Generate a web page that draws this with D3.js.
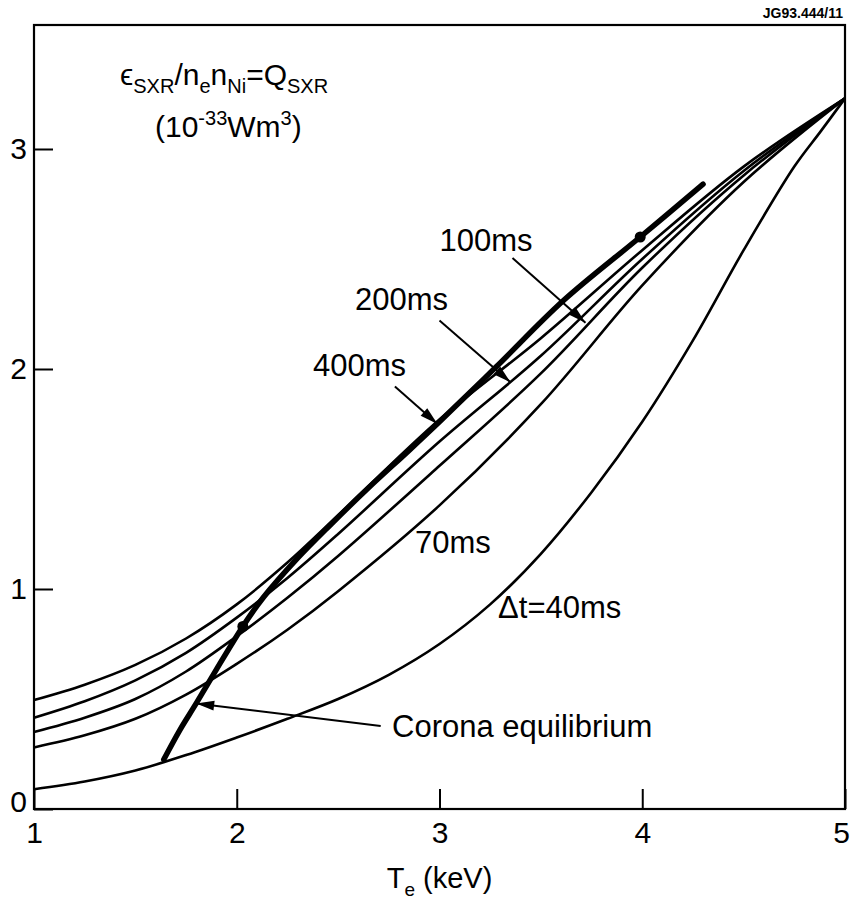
<!DOCTYPE html>
<html>
<head>
<meta charset="utf-8">
<script src="https://cdn.jsdelivr.net/npm/d3@7"></script>
<style>
body { margin: 0; background: #fff; }
svg text { font-family: "Liberation Sans", Arial, Helvetica, sans-serif; fill: #000; }
</style>
</head>
<body>
<svg width="851" height="901"></svg>
<script>
"use strict";

// Te grid (keV) shared by the 70..400ms curves
const temps = [1, 1.25, 1.5, 1.75, 2, 2.25, 2.5, 3, 3.5, 4, 4.5, 5];
const q400 = [0.495, 0.565, 0.655, 0.775, 0.93, 1.12, 1.335, 1.77, 2.14, 2.54, 2.92, 3.23];
const q200 = [0.415, 0.49, 0.585, 0.71, 0.87, 1.05, 1.25, 1.67, 2.06, 2.50, 2.90, 3.23];
const q100 = [0.35, 0.415, 0.50, 0.625, 0.785, 0.96, 1.15, 1.56, 1.98, 2.46, 2.88, 3.23];
const q70 = [0.28, 0.335, 0.41, 0.52, 0.66, 0.815, 0.99, 1.38, 1.84, 2.38, 2.85, 3.23];
// 40ms curve has its own grid (S shape)
const t40 = [1, 1.25, 1.5, 1.75, 2, 2.25, 2.5, 2.75, 3, 3.25, 3.5, 3.75, 4, 4.25, 4.5, 4.75, 4.88, 5];
const q40 = [0.09, 0.125, 0.175, 0.245, 0.325, 0.41, 0.50, 0.61, 0.75, 0.93, 1.16, 1.44, 1.76, 2.13, 2.54, 2.92, 3.08, 3.23];
// corona equilibrium (thick)
const tCorona = [1.64, 1.72, 1.8, 1.9, 2.03, 2.13, 2.3, 2.46, 2.65, 2.85, 3.0, 3.28, 3.61, 3.99, 4.3];
const qCorona = [0.225, 0.36, 0.48, 0.635, 0.83, 0.96, 1.14, 1.29, 1.46, 1.63, 1.76, 2.01, 2.31, 2.6, 2.84];
const coronaDots = [2.03, 3.99];

const xTicks = [1, 2, 3, 4, 5];
const yTicks = [0, 1, 2, 3];

const thinSeries = [
    {name: "400ms", t: temps, q: q400},
    {name: "200ms", t: temps, q: q200},
    {name: "100ms", t: temps, q: q100},
    {name: "70ms", t: temps, q: q70},
    {name: "40ms", t: t40, q: q40}
];

// labels: text anchor point and optional arrow (tail -> tip), all in data units
const notes = [
    {text: "100ms", at: [3.0, 2.536], from: [3.36, 2.505], to: [3.72, 2.21]},
    {text: "200ms", at: [2.583, 2.268], from: [3.0, 2.22], to: [3.35, 1.94]},
    {text: "400ms", at: [2.376, 1.968], from: [2.78, 1.92], to: [2.99, 1.75]},
    {text: "70ms", at: [2.879, 1.164]},
    {text: "\u0394t=40ms", at: [3.289, 0.868]},
    {text: "Corona equilibrium", at: [2.766, 0.327], from: [2.71, 0.377], to: [1.80, 0.48]}
];

const svg = d3.select("svg"),
    plotLeft = 34, plotRight = 845, plotTop = 25, plotBottom = 809;

const x = d3.scaleLinear().domain([1, 5]).range([plotLeft, plotRight]);
const y = d3.scaleLinear().domain([0, 3.5636]).range([plotBottom, plotTop]);

// axes with inward ticks
svg.append("g")
    .attr("transform", `translate(0,${plotBottom})`)
    .call(d3.axisBottom(x).tickValues(xTicks).tickFormat(d3.format("d"))
        .tickSizeInner(-20).tickSizeOuter(0).tickPadding(13))
    .call(g => g.select(".domain").remove())
    .call(g => g.selectAll("line").attr("stroke", "#000").attr("stroke-width", 2))
    .call(g => g.selectAll("text").attr("font-size", 30).attr("font-family", null))
    .call(g => g.selectAll("text").filter(d => d === 5).attr("dx", -4));

svg.append("g")
    .attr("transform", `translate(${plotLeft},0)`)
    .call(d3.axisLeft(y).tickValues(yTicks).tickFormat(d3.format("d"))
        .tickSizeInner(-19).tickSizeOuter(0).tickPadding(7))
    .call(g => g.select(".domain").remove())
    .call(g => g.selectAll("line").attr("stroke", "#000").attr("stroke-width", 2))
    .call(g => g.selectAll("text").attr("font-size", 30).attr("font-family", null))
    .call(g => g.selectAll("text").filter(d => d === 0).attr("y", -7));

svg.append("rect")
    .attr("x", plotLeft).attr("y", plotTop)
    .attr("width", plotRight - plotLeft).attr("height", plotBottom - plotTop)
    .attr("fill", "none").attr("stroke", "#000").attr("stroke-width", 2.2);

const line = d3.line()
    .x(d => x(d[0]))
    .y(d => y(d[1]))
    .curve(d3.curveCatmullRom.alpha(0.5));

svg.append("g").selectAll("path")
    .data(thinSeries)
    .join("path")
    .attr("d", s => line(s.t.map((t, i) => [t, s.q[i]])))
    .attr("fill", "none")
    .attr("stroke", "#000")
    .attr("stroke-width", 2.6);

svg.append("path")
    .attr("d", line(tCorona.map((t, i) => [t, qCorona[i]])))
    .attr("fill", "none")
    .attr("stroke", "#000")
    .attr("stroke-width", 5.5)
    .attr("stroke-linecap", "round");

const qAt = d3.scaleLinear().domain(tCorona).range(qCorona);
svg.append("g").selectAll("circle")
    .data(coronaDots)
    .join("circle")
    .attr("cx", d => x(d))
    .attr("cy", d => y(qAt(d)))
    .attr("r", 5.5)
    .attr("fill", "#000");

// annotation arrows
function arrowHead(x1, y1, x2, y2, len, w) {
    const dx = x2 - x1, dy = y2 - y1, n = Math.hypot(dx, dy),
        ux = dx / n, uy = dy / n,
        bx = x2 - ux * len, by = y2 - uy * len;
    return [[x2, y2], [bx - uy * w / 2, by + ux * w / 2], [bx + uy * w / 2, by - ux * w / 2]];
}

const arrows = notes.filter(d => d.from);
svg.append("g").selectAll("line")
    .data(arrows)
    .join("line")
    .attr("x1", d => x(d.from[0])).attr("y1", d => y(d.from[1]))
    .attr("x2", d => x(d.to[0])).attr("y2", d => y(d.to[1]))
    .attr("stroke", "#000")
    .attr("stroke-width", 2);

svg.append("g").selectAll("polygon")
    .data(arrows)
    .join("polygon")
    .attr("points", d => arrowHead(x(d.from[0]), y(d.from[1]), x(d.to[0]), y(d.to[1]), 18, 10).join(" "))
    .attr("fill", "#000");

svg.append("g").selectAll("text")
    .data(notes)
    .join("text")
    .attr("x", d => x(d.at[0]))
    .attr("y", d => y(d.at[1]))
    .attr("font-size", 31)
    .text(d => d.text);

// quantity title
const title = svg.append("text").attr("x", 120).attr("y", 85).attr("font-size", 30);
title.append("tspan").text("\u03F5");
title.append("tspan").attr("font-size", 20).attr("dy", 8).text("SXR");
title.append("tspan").attr("dy", -8).text("/n");
title.append("tspan").attr("font-size", 20).attr("dy", 8).text("e");
title.append("tspan").attr("dy", -8).text("n");
title.append("tspan").attr("font-size", 20).attr("dy", 8).text("Ni");
title.append("tspan").attr("dy", -8).text("=Q");
title.append("tspan").attr("font-size", 20).attr("dy", 8).text("SXR");

const unit = svg.append("text").attr("x", 155).attr("y", 137).attr("font-size", 30);
unit.append("tspan").text("(10");
unit.append("tspan").attr("font-size", 20).attr("dy", -12).text("-33");
unit.append("tspan").attr("dy", 12).text("Wm");
unit.append("tspan").attr("font-size", 20).attr("dy", -12).text("3");
unit.append("tspan").attr("dy", 12).text(")");

// x axis title
const xt = svg.append("text").attr("x", (plotLeft + plotRight) / 2).attr("y", 888)
    .attr("text-anchor", "middle").attr("font-size", 29);
xt.append("tspan").text("T");
xt.append("tspan").attr("font-size", 19).attr("dy", 8).text("e");
xt.append("tspan").attr("dy", -8).text(" (keV)");

svg.append("text")
    .attr("x", 843).attr("y", 18)
    .attr("text-anchor", "end")
    .attr("font-size", 14)
    .attr("font-weight", "bold")
    .text("JG93.444/11");
</script>
</body>
</html>
